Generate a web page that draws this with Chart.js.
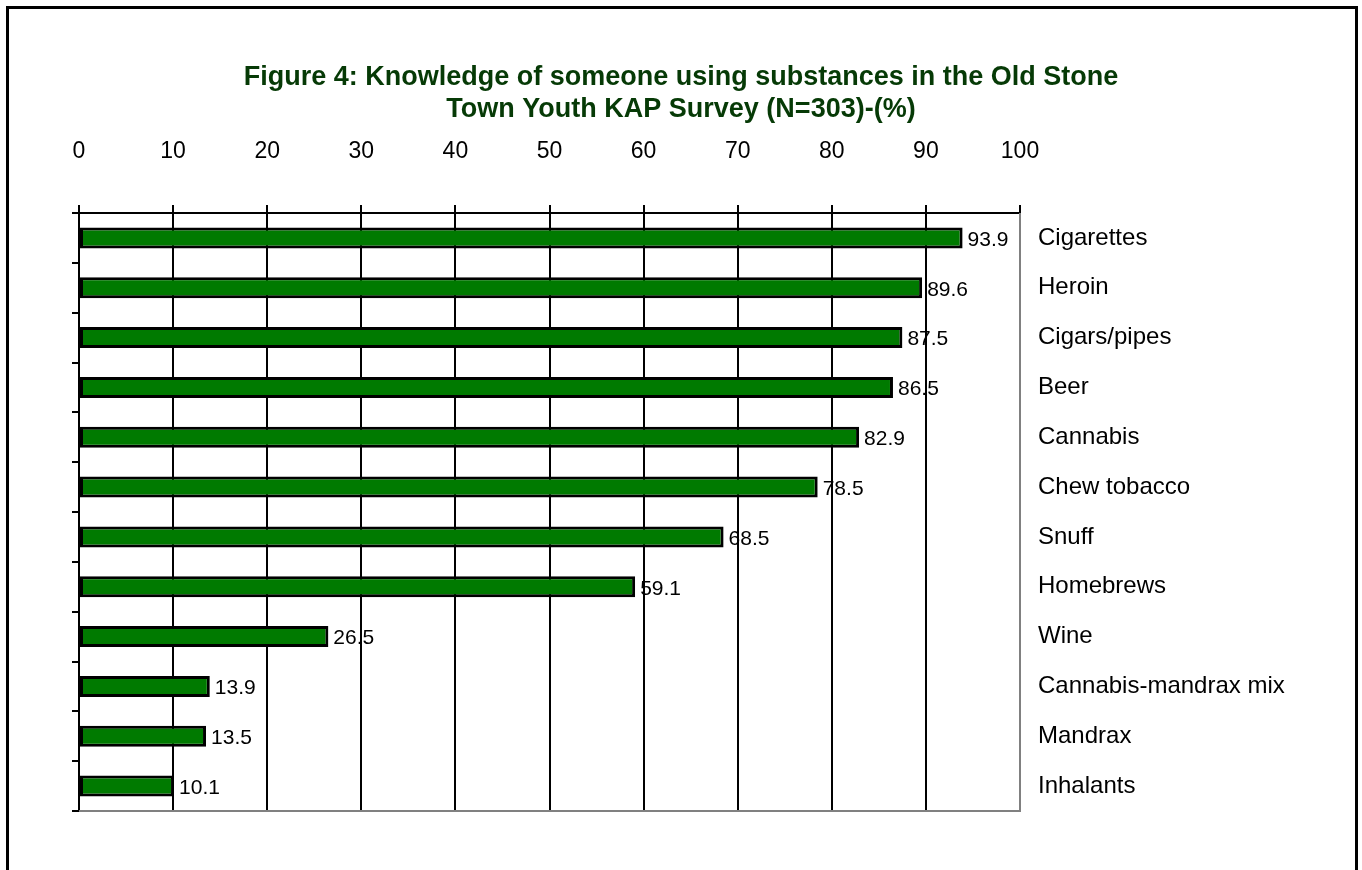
<!DOCTYPE html>
<html>
<head>
<meta charset="utf-8">
<script src="https://cdn.jsdelivr.net/npm/chart.js@4.4.1/dist/chart.umd.min.js"></script>
<style>
  html, body { margin: 0; padding: 0; background: #fff; overflow: hidden; }
  #frame { position: absolute; left: 6px; top: 6px; width: 1346px; height: 900px; border: 3px solid #000; }
  #wrap { position: absolute; left: 0; top: 0; width: 1362px; height: 870px; }
</style>
</head>
<body>
<div id="frame"></div>
<div id="wrap"><canvas id="mycanvas" width="1362" height="870"></canvas></div>
<script>
var titleLines = ["Figure 4: Knowledge of someone using substances in the Old Stone",
                  "Town Youth KAP Survey (N=303)-(%)"];
var substances = ["Cigarettes", "Heroin", "Cigars/pipes", "Beer", "Cannabis", "Chew tobacco",
                  "Snuff", "Homebrews", "Wine", "Cannabis-mandrax mix", "Mandrax", "Inhalants"];
var percents = [93.9, 89.6, 87.5, 86.5, 82.9, 78.5, 68.5, 59.1, 26.5, 13.9, 13.5, 10.1];
var xTicks = [0, 10, 20, 30, 40, 50, 60, 70, 80, 90, 100];

var FONT = '"Liberation Sans", Arial, sans-serif';

// title, value labels and the grey plot-area edges
var extras = {
  id: 'extras',
  beforeDraw: function(chart) {
    var ctx = chart.ctx;
    ctx.save();
    ctx.fillStyle = '#063a06';
    ctx.font = 'bold 27px ' + FONT;
    ctx.textAlign = 'center';
    ctx.textBaseline = 'middle';
    ctx.fillText(titleLines[0], 681, 78);
    ctx.fillText(titleLines[1], 681, 110);
    ctx.restore();
  },
  afterDatasetsDraw: function(chart) {
    var ctx = chart.ctx;
    var area = chart.chartArea;
    ctx.save();
    ctx.strokeStyle = '#808080';
    ctx.lineWidth = 2;
    ctx.beginPath();
    ctx.moveTo(area.left, area.bottom);
    ctx.lineTo(area.right, area.bottom);
    ctx.lineTo(area.right, area.top);
    ctx.stroke();

    ctx.fillStyle = '#000';
    ctx.font = '21px ' + FONT;
    ctx.textAlign = 'left';
    ctx.textBaseline = 'middle';
    chart.getDatasetMeta(0).data.forEach(function(bar, i) {
      ctx.fillText(percents[i].toFixed(1), bar.x + 5, bar.y + 2);
    });
    ctx.restore();
  }
};

var ctx = document.getElementById('mycanvas');
var chart = new Chart(ctx, {
  type: 'bar',
  data: {
    labels: substances,
    datasets: [{
      data: percents,
      backgroundColor: '#007a00',
      borderColor: '#000',
      borderWidth: 3,
      borderSkipped: false,
      barPercentage: 0.42,
      categoryPercentage: 1.0
    }]
  },
  options: {
    indexAxis: 'y',
    responsive: false,
    maintainAspectRatio: false,
    animation: false,
    layout: { padding: { top: 100, left: 10, right: 10, bottom: 59 } },
    plugins: { legend: { display: false }, tooltip: { enabled: false }, title: { display: false } },
    scales: {
      x: {
        position: 'top',
        min: 0,
        max: 100,
        afterBuildTicks: function(axis) { axis.ticks = xTicks.map(function(v) { return { value: v }; }); },
        ticks: { color: '#000', font: { family: FONT, size: 23 }, padding: 40, maxRotation: 0 },
        grid: {
          color: function(c) { return c.index === xTicks.length - 1 ? 'rgba(0,0,0,0)' : '#000'; },
          tickColor: '#000',
          lineWidth: 2,
          tickLength: 8
        },
        border: { color: '#000', width: 2 },
        afterFit: function(axis) { axis.height = 113; }
      },
      y: {
        position: 'left',
        ticks: { display: false },
        grid: { drawOnChartArea: false, color: '#000', lineWidth: 2, tickLength: 7, offset: true },
        border: { color: '#000', width: 2 },
        afterFit: function(axis) { axis.width = 69; }
      },
      y2: {
        type: 'category',
        position: 'right',
        labels: substances,
        offset: true,
        ticks: { color: '#000', font: { family: FONT, size: 24 }, padding: 18, crossAlign: 'near' },
        grid: { display: false, drawTicks: false, tickLength: 0 },
        border: { display: false },
        afterFit: function(axis) { axis.width = 332; }
      }
    }
  },
  plugins: [extras]
});
</script>
</body>
</html>
